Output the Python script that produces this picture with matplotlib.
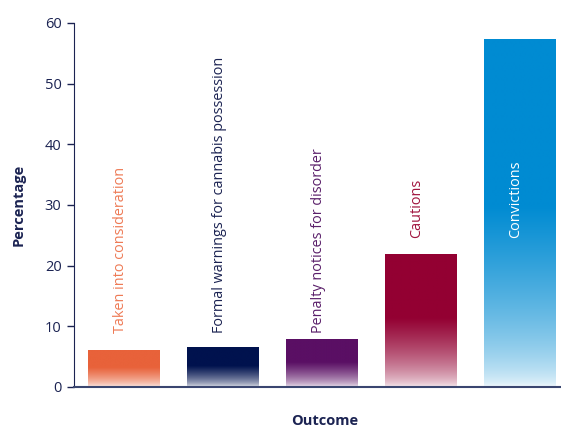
import numpy as np
import matplotlib
matplotlib.use("Agg")
import matplotlib.pyplot as plt
from matplotlib.colors import to_rgb

categories = ["Taken into consideration", "Formal warnings for cannabis possession",
              "Penalty notices for disorder", "Cautions", "Convictions"]
values = [6.1, 6.6, 7.9, 21.9, 57.3]
bar_colors = ["#E8623A", "#00124E", "#5A0F64", "#930032", "#008BD2"]
label_colors = ["#EE7A55", "#1B2352", "#5A1F6A", "#A0143E", "#FFFFFF"]
label_y = [8.9, 8.9, 8.9, 24.5, 24.5]
yticks = [0, 10, 20, 30, 40, 50, 60]

navy = "#1B2352"
plt.rcParams['font.family'] = ['Open Sans', 'DejaVu Sans']

fig = plt.figure(figsize=(5.61, 4.28), dpi=100)
ax = fig.add_axes([74/561, 41/428, 487/561, 364/428])

x = np.arange(len(categories))
w = 0.727
bars = ax.bar(x, values, width=w, color="none", edgecolor="none")

n = 256
t = np.linspace(0, 1, n)
for b, v, c in zip(bars, values, bar_colors):
    rgb = np.array(to_rgb(c))
    u = np.clip(t / 0.52, 0, 1)
    s = 0.05 + 0.95 * u ** 0.6
    img = (1 - s)[:, None] * np.ones(3)[None, :] + s[:, None] * rgb[None, :]
    img = img[:, None, :]
    xl = b.get_x()
    im = ax.imshow(img, extent=[xl, xl + w, 0, v], origin="lower",
                   aspect="auto", interpolation="bilinear", zorder=2)
    im.set_clip_path(b)

for xi, cat, ly, lc in zip(x, categories, label_y, label_colors):
    ax.text(xi - 0.04, ly, cat, rotation=90, ha="center", va="bottom",
            color=lc, fontsize=10.4, zorder=3)

ax.set_xlim(-0.505, -0.505 + 487/99)
ax.set_ylim(0, 60)
ax.set_yticks(yticks)
ax.set_xticks([])
for sp in ["top", "right"]:
    ax.spines[sp].set_visible(False)
ax.spines["left"].set_color(navy)
ax.spines["bottom"].set_color("#3A4670")
ax.spines["bottom"].set_linewidth(1.5)
ax.tick_params(axis="y", colors=navy, labelsize=10.5, length=5, width=1, pad=4)
ax.set_ylabel("Percentage", fontweight="bold", color=navy, fontsize=10.5, labelpad=14)
fig.text(325/561, 1 - 421/428, "Outcome", fontweight="bold", color=navy,
         fontsize=10.5, ha="center", va="center")

fig.savefig("out.png", dpi=100)
